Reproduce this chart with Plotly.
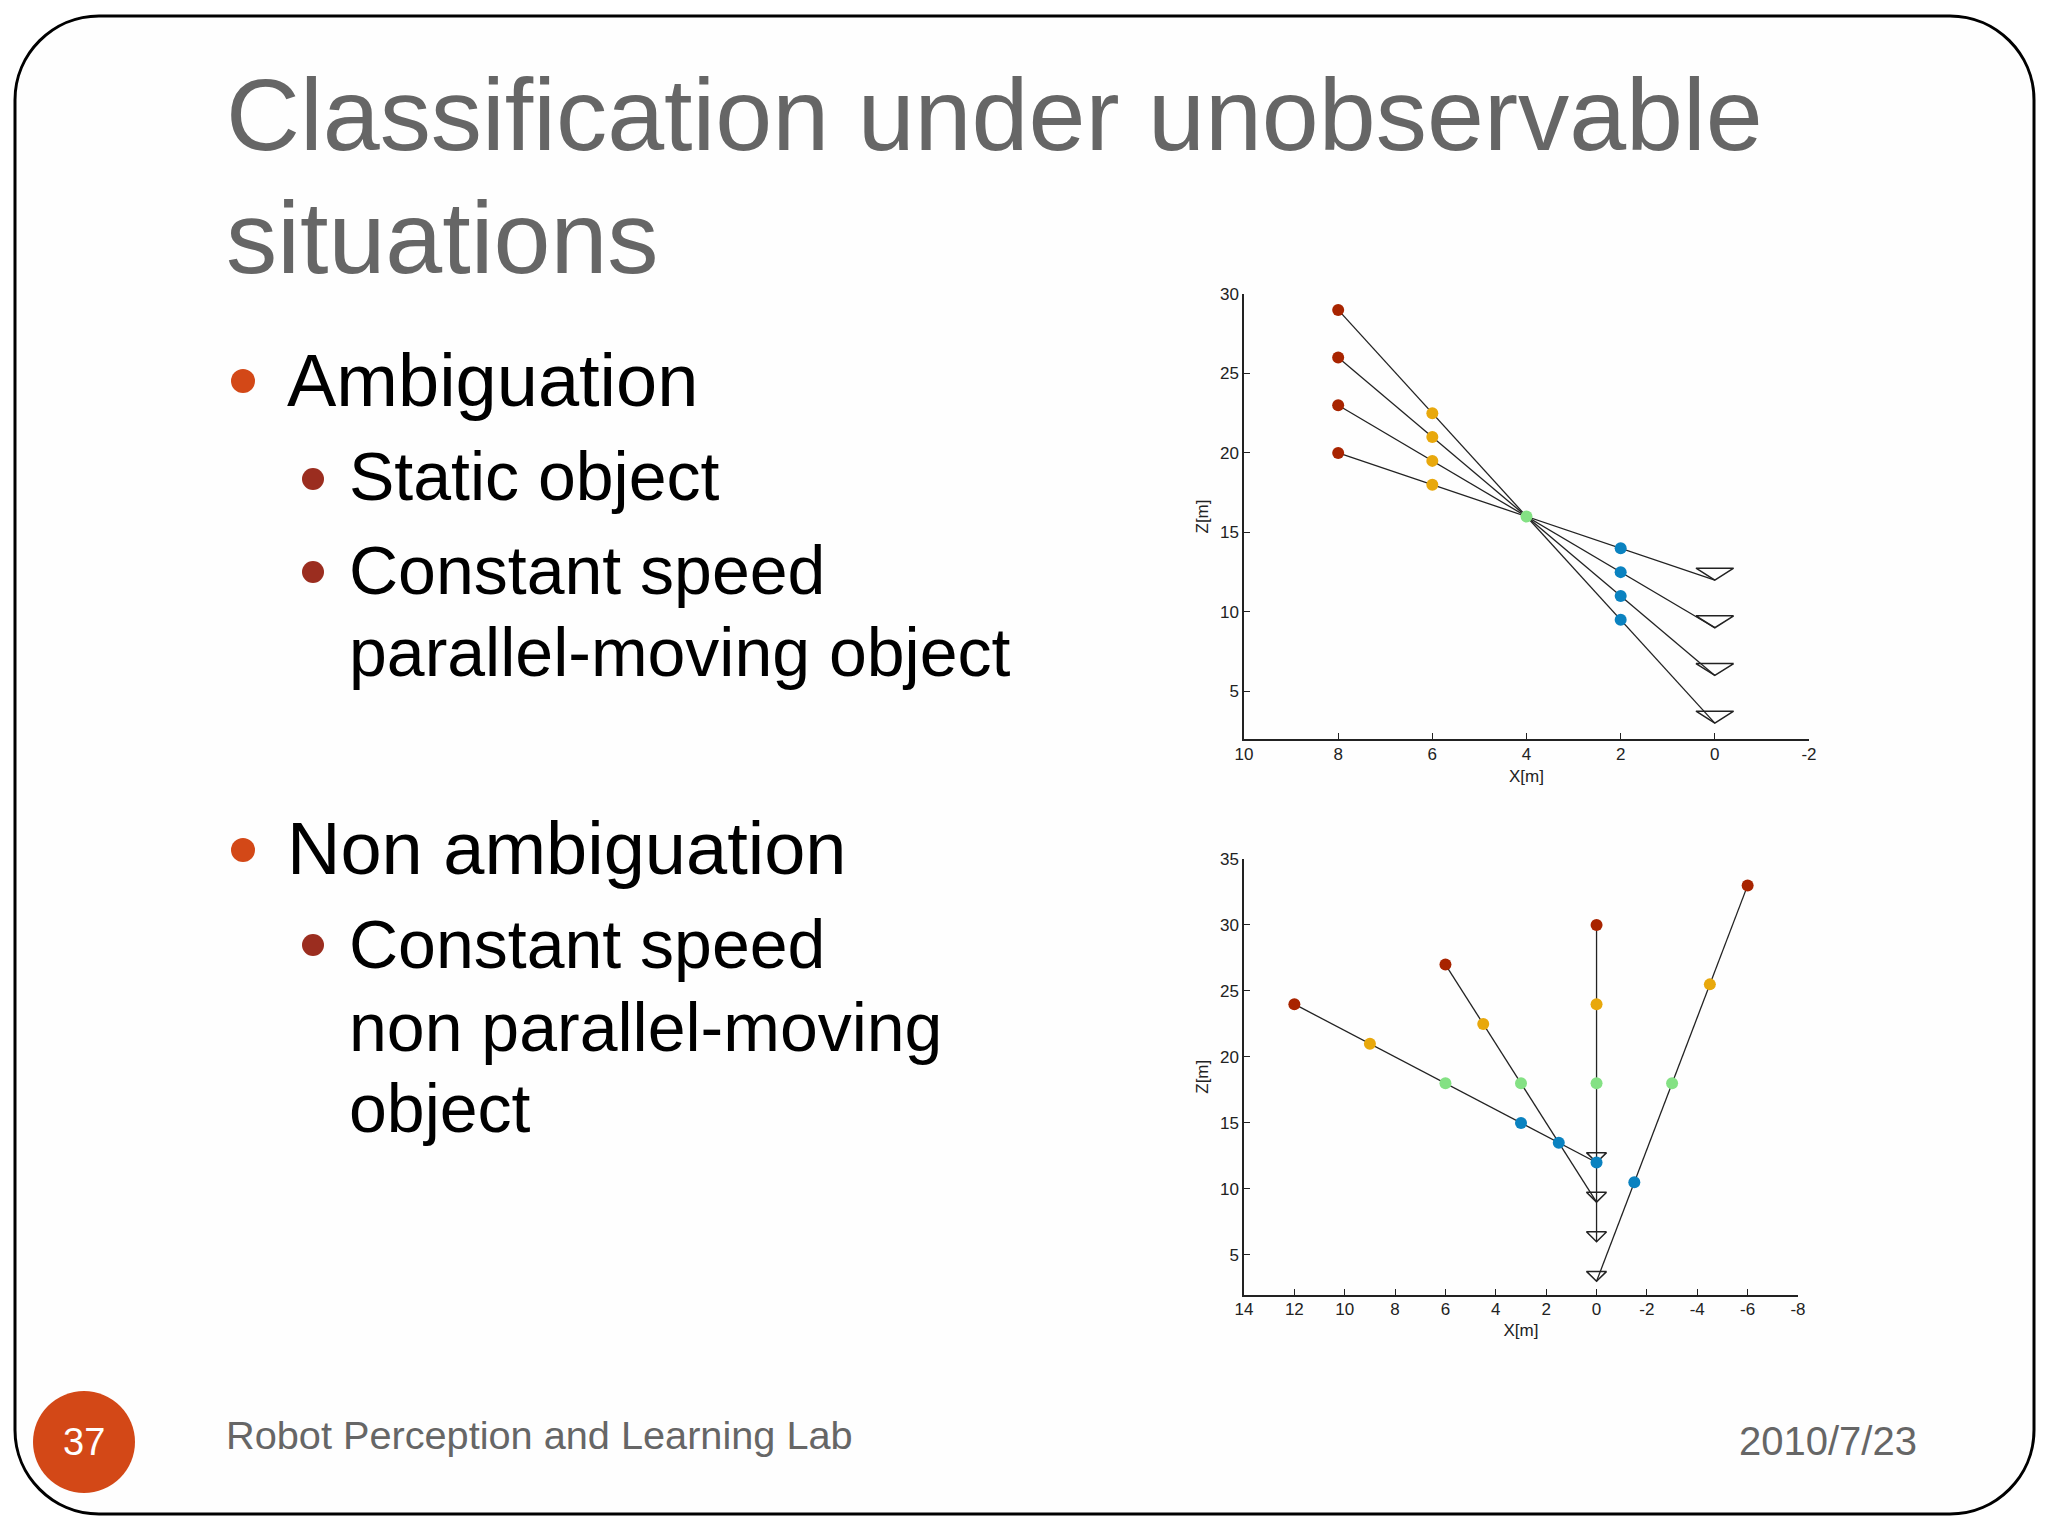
import plotly.graph_objects as go

W, H = 2048, 1536

# Top chart data
top_x_ticks = [10, 8, 6, 4, 2, 0, -2]
top_x_labels = ["10", "8", "6", "4", "2", "0", "-2"]
top_y_ticks = [5, 10, 15, 20, 25, 30]
top_x_far = [8, 8, 8, 8]
top_z_far = [29, 26, 23, 20]
top_x_mid = [6, 6, 6, 6]
top_z_mid = [22.5, 21, 19.5, 18]
top_x_cross = [4]
top_z_cross = [16]
top_x_near = [2, 2, 2, 2]
top_z_near = [9.5, 11, 12.5, 14]
top_cam_x = [0, 0, 0, 0]
top_cam_z = [3, 6, 9, 12]

# Bottom chart data
bot_x_ticks = [14, 12, 10, 8, 6, 4, 2, 0, -2, -4, -6, -8]
bot_x_labels = ["14", "12", "10", "8", "6", "4", "2", "0", "-2", "-4", "-6", "-8"]
bot_y_ticks = [5, 10, 15, 20, 25, 30, 35]
bot_x_far = [-6, 0, 6, 12]
bot_z_far = [33, 30, 27, 24]
bot_x_mid = [-4.5, 0, 4.5, 9]
bot_z_mid = [25.5, 24, 22.5, 21]
bot_x_cross = [-3, 0, 3, 6]
bot_z_cross = [18, 18, 18, 18]
bot_x_near = [-1.5, 0, 1.5, 3]
bot_z_near = [10.5, 12, 13.5, 15]
bot_cam_x = [0, 0, 0, 0]
bot_cam_z = [3, 6, 9, 12]

RED = "#A82400"
AMBER = "#E8A80C"
GREEN = "#84E184"
BLUE = "#0A82C0"
INK = "#222222"
ORANGE = "#D34817"
MAROON = "#9B2D1F"
GREY = "#666666"
TRI_W = 0.4
TRI_H = 0.75

fig = go.Figure()


def add_rays(xa, ya, far_x, far_z, cam_x, cam_z):
    # each ray runs from a far point to its camera
    for fx, fz, cx, cz in zip(far_x, far_z, cam_x, cam_z):
        fig.add_trace(go.Scatter(x=[fx, cx], y=[fz, cz], xaxis=xa, yaxis=ya, mode="lines",
                                 line=dict(color=INK, width=1.3), hoverinfo="skip"))


def add_cameras(xa, ya, cam_x, cam_z):
    for cx, cz in zip(cam_x, cam_z):
        fig.add_trace(go.Scatter(x=[cx - TRI_W, cx + TRI_W, cx, cx - TRI_W],
                                 y=[cz + TRI_H, cz + TRI_H, cz, cz + TRI_H],
                                 xaxis=xa, yaxis=ya, mode="lines",
                                 line=dict(color=INK, width=1.5), hoverinfo="skip"))


def add_points(xa, ya, xs, zs, color):
    fig.add_trace(go.Scatter(x=xs, y=zs, xaxis=xa, yaxis=ya, mode="markers",
                             marker=dict(color=color, size=12)))


add_rays("x", "y", top_x_far, top_z_far, top_cam_x, top_cam_z)
add_cameras("x", "y", top_cam_x, top_cam_z)
add_points("x", "y", top_x_far, top_z_far, RED)
add_points("x", "y", top_x_mid, top_z_mid, AMBER)
add_points("x", "y", top_x_cross, top_z_cross, GREEN)
add_points("x", "y", top_x_near, top_z_near, BLUE)

add_rays("x2", "y2", bot_x_far, bot_z_far, bot_cam_x, bot_cam_z)
add_cameras("x2", "y2", bot_cam_x, bot_cam_z)
add_points("x2", "y2", bot_x_far, bot_z_far, RED)
add_points("x2", "y2", bot_x_mid, bot_z_mid, AMBER)
add_points("x2", "y2", bot_x_cross, bot_z_cross, GREEN)
add_points("x2", "y2", bot_x_near, bot_z_near, BLUE)


def px(v):
    return v / W


def py(v):
    return 1 - v / H


def axis_style():
    return dict(showgrid=False, zeroline=False, showline=True, linecolor=INK, linewidth=1.5,
                automargin=False, ticks="inside", ticklen=6, tickcolor=INK, tickwidth=1.3,
                tickfont=dict(family="Liberation Sans", size=17, color=INK),
                title_font=dict(family="Liberation Sans", size=17, color=INK))


fig.update_layout(
    width=W, height=H, margin=dict(l=0, r=0, t=0, b=0), showlegend=False,
    paper_bgcolor="white", plot_bgcolor="rgba(0,0,0,0)",
    xaxis=dict(axis_style(), domain=[px(1244), px(1809)], range=[10, -2], anchor="y",
               tickmode="array", tickvals=top_x_ticks, ticktext=top_x_labels,
               ticklabelstandoff=-1, title=dict(text="X[m]", standoff=7)),
    yaxis=dict(axis_style(), domain=[py(739), py(294)], range=[2, 30], anchor="x",
               tickmode="array", tickvals=top_y_ticks,
               title=dict(text="Z[m]", standoff=7)),
    xaxis2=dict(axis_style(), domain=[px(1244), px(1798)], range=[14, -8], anchor="y2",
                tickmode="array", tickvals=bot_x_ticks, ticktext=bot_x_labels,
                ticklabelstandoff=-2, title=dict(text="X[m]", standoff=6)),
    yaxis2=dict(axis_style(), domain=[py(1294.5), py(859)], range=[2, 35], anchor="x2",
                tickmode="array", tickvals=bot_y_ticks,
                title=dict(text="Z[m]", standoff=7)),
)

# slide frame, rounded corners
L, R, T, B, C, K = 15, 2034, 16, 1514, 84, 0.45
path = (f"M {px(L + C)} {py(T)} L {px(R - C)} {py(T)} "
        f"C {px(R - C * K)} {py(T)} {px(R)} {py(T + C * K)} {px(R)} {py(T + C)} "
        f"L {px(R)} {py(B - C)} "
        f"C {px(R)} {py(B - C * K)} {px(R - C * K)} {py(B)} {px(R - C)} {py(B)} "
        f"L {px(L + C)} {py(B)} "
        f"C {px(L + C * K)} {py(B)} {px(L)} {py(B - C * K)} {px(L)} {py(B - C)} "
        f"L {px(L)} {py(T + C)} "
        f"C {px(L)} {py(T + C * K)} {px(L + C * K)} {py(T)} {px(L + C)} {py(T)} Z")
fig.add_shape(type="path", path=path, xref="paper", yref="paper", layer="below",
              line=dict(color="black", width=3), fillcolor="#FEFEFE")


def dot(x, y, r, color):
    fig.add_shape(type="circle", xref="paper", yref="paper", layer="below",
                  x0=px(x - r), x1=px(x + r), y0=py(y + r), y1=py(y - r),
                  fillcolor=color, line=dict(width=0))


dot(243, 381, 12, ORANGE)
dot(243, 850, 12, ORANGE)
dot(313, 479, 11, MAROON)
dot(313, 572, 11, MAROON)
dot(313, 945, 11, MAROON)
dot(84, 1442, 51, ORANGE)


def label(text, x, y, size, color="black", anchor="left"):
    fig.add_annotation(text=text, x=px(x), y=py(y), xref="paper", yref="paper",
                       xanchor=anchor, yanchor="middle", showarrow=False,
                       font=dict(family="Liberation Sans", size=size, color=color))


label("Classification under unobservable", 223.5, 115, 102.4, GREY)
label("situations", 223.5, 238, 102.4, GREY)
label("Ambiguation", 285, 380, 74)
label("Static object", 346.5, 476, 68)
label("Constant speed", 346.5, 570, 68)
label("parallel-moving object", 346.5, 652, 68)
label("Non ambiguation", 285, 848, 74)
label("Constant speed", 346.5, 944, 68)
label("non parallel-moving", 346.5, 1027, 68)
label("object", 346.5, 1108, 68)
label("Robot Perception and Learning Lab", 223.5, 1435, 39.7, GREY)
label("2010/7/23", 1918.5, 1441, 40, GREY, "right")
label("37", 84, 1442, 38, "white", "center")

fig.write_html("out.html", config={"displayModeBar": False},
               post_script="document.body.style.margin='0';")
